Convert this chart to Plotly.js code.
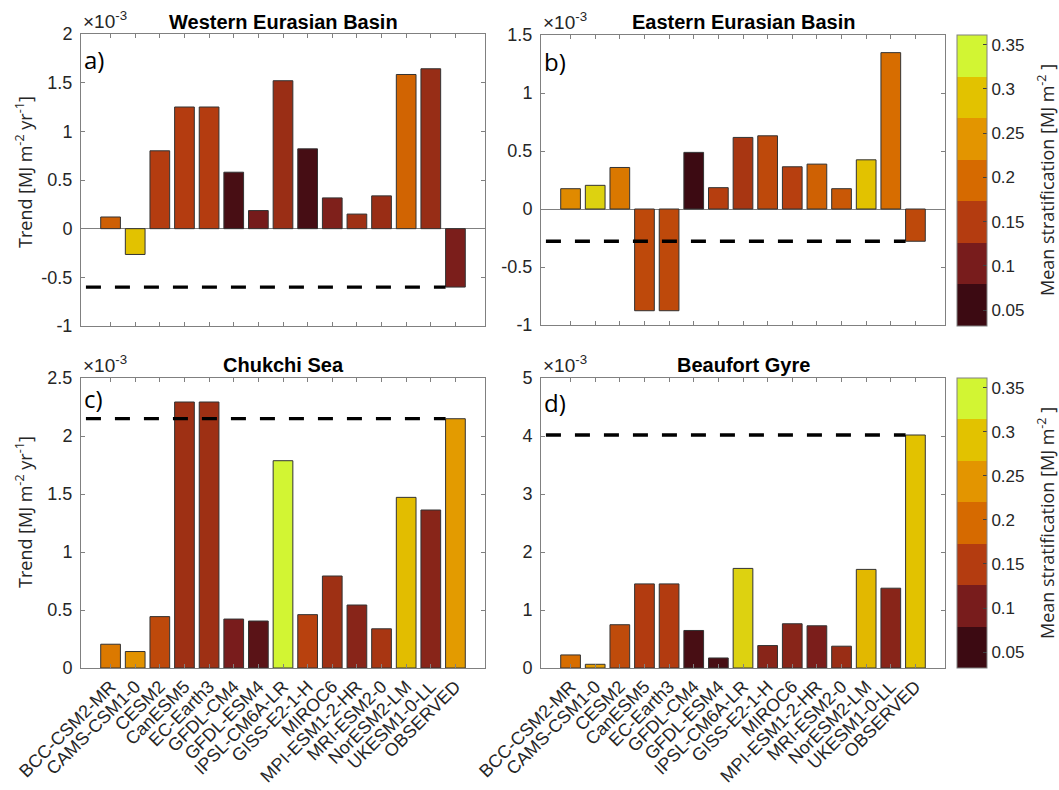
<!DOCTYPE html>
<html><head><meta charset="utf-8">
<script src="https://cdn.plot.ly/plotly-3.0.1.min.js"></script>
<style>html,body{margin:0;padding:0;background:#fff}#chart{width:1059px;height:790px}</style>
</head><body><div id="chart"></div>
<script>
// ---------------- DATA ----------------
const models = ["BCC-CSM2-MR","CAMS-CSM1-0","CESM2","CanESM5","EC-Earth3","GFDL-CM4","GFDL-ESM4","IPSL-CM6A-LR","GISS-E2-1-H","MIROC6","MPI-ESM1-2-HR","MRI-ESM2-0","NorESM2-LM","UKESM1-0-LL","OBSERVED"];
// Trend, in units of 1e-3 MJ m-2 yr-1
const trendWEB = [0.12,-0.265,0.80,1.25,1.25,0.58,0.186,1.52,0.82,0.316,0.15,0.337,1.584,1.643,-0.60];
const trendEEB = [0.175,0.204,0.358,-0.877,-0.877,0.488,0.184,0.617,0.631,0.364,0.387,0.175,0.424,1.348,-0.278];
const trendCS  = [0.205,0.142,0.443,2.293,2.293,0.422,0.405,1.787,0.46,0.793,0.543,0.338,1.471,1.362,2.149];
const trendBG  = [0.225,0.064,0.746,1.45,1.45,0.647,0.173,1.717,0.387,0.763,0.728,0.376,1.70,1.376,4.017];
// Mean stratification, MJ m-2 (bar colour)
const stratWEB = [0.185,0.29,0.15,0.15,0.15,0.065,0.10,0.129,0.063,0.108,0.132,0.128,0.19,0.127,0.105];
const stratEEB = [0.231,0.305,0.212,0.163,0.163,0.05,0.152,0.14,0.163,0.153,0.187,0.178,0.29,0.2,0.163];
const stratCS  = [0.213,0.24,0.163,0.132,0.132,0.103,0.079,0.34,0.155,0.132,0.115,0.14,0.285,0.115,0.25];
const stratBG  = [0.2,0.25,0.165,0.148,0.148,0.065,0.065,0.305,0.115,0.115,0.105,0.128,0.28,0.115,0.29];
const panelTitles = ["Western Eurasian Basin","Eastern Eurasian Basin","Chukchi Sea","Beaufort Gyre"];
const panelLetters = ["a)","b)","c)","d)"];
const yTicksA = [-1,-0.5,0,0.5,1,1.5,2];
const yTicksB = [-1,-0.5,0,0.5,1,1.5];
const yTicksC = [0,0.5,1,1.5,2,2.5];
const yTicksD = [0,1,2,3,4,5];
const cbTicks = [0.05,0.1,0.15,0.2,0.25,0.3,0.35];
const cbRange = [0.032,0.361];

// ---------------- STYLE ----------------
const W=1059,H=790;
const fx=p=>p/W, fy=p=>1-p/H;
const bandColors = ["#3c0a12","#781c1c","#b43c10","#d66a00","#e39500","#e2c200","#d2f533"]; // bottom -> top
const nb = bandColors.length;
const discScale = [];
bandColors.forEach((c,i)=>{discScale.push([i/nb,c]);discScale.push([(i+1)/nb,c]);});
const contScale = [[0,bandColors[0]]];
bandColors.forEach((c,i)=>contScale.push([(i+0.5)/nb,c]));
contScale.push([1,bandColors[nb-1]]);

const tickFont = {family:"Liberation Sans, Arial, sans-serif", size:18, color:"#262626"};
const lab = v => String(v);
const xpos = models.map((m,i)=>i+1);

function xax(dom, anchor, showLabels){
  return {domain:dom, anchor:anchor, range:[-0.2,16.2], showline:true, linecolor:"#808080", linewidth:1,
    mirror:"ticks", ticks:"inside", ticklen:4, tickcolor:"#808080", showgrid:false, zeroline:false,
    tickvals:xpos, ticktext:models, showticklabels:showLabels, tickangle:-45,
    tickfont:{family:"Liberation Sans, Arial, sans-serif", size:18, color:"#262626"}, fixedrange:true};
}
function yax(dom, anchor, rng, tv, zl){
  return {domain:dom, anchor:anchor, range:rng, showline:true, linecolor:"#808080", linewidth:1,
    mirror:"ticks", ticks:"inside", ticklen:4, tickcolor:"#808080", showgrid:false,
    zeroline:zl, zerolinecolor:"#808080", zerolinewidth:1,
    tickvals:tv, ticktext:tv.map(lab), tickfont:tickFont, ticklabelstandoff:4, fixedrange:true};
}

const trends=[trendWEB,trendEEB,trendCS,trendBG];
const strats=[stratWEB,stratEEB,stratCS,stratBG];
const axn=["","2","3","4"];
const traces=[];
trends.forEach((t,k)=>{
  traces.push({type:"bar", x:xpos, y:t, width:0.8, xaxis:"x"+axn[k], yaxis:"y"+axn[k],
    marker:{color:strats[k], colorscale:contScale, cmin:cbRange[0], cmax:cbRange[1], showscale:false,
      line:{color:"#333333", width:1}}, hoverinfo:"x+y", showlegend:false});
});
// colourbars (discrete), attached to hidden markers
[["2",35,291],["4",378,290]].forEach(([a,top,len])=>{
  traces.push({type:"scatter", mode:"markers", x:cbTicks.map(()=>1), y:cbTicks.map(()=>-100),
    xaxis:"x"+a, yaxis:"y"+a, hoverinfo:"skip", showlegend:false,
    marker:{size:1, color:cbTicks, colorscale:discScale, cmin:cbRange[0], cmax:cbRange[1], showscale:true,
      colorbar:{x:fx(957), xanchor:"left", xpad:0, ypad:0, thickness:30, thicknessmode:"pixels",
        len:len, lenmode:"pixels", y:fy(top), yanchor:"top", outlinecolor:"#808080", outlinewidth:1,
        tickvals:cbTicks, ticktext:cbTicks.map(lab), ticks:"inside", ticklen:4, tickcolor:"#404040",
        tickfont:{family:"Liberation Sans, Arial, sans-serif", size:17, color:"#262626"}}}});
});

const dom = {
  xa:[fx(81),fx(485)], xb:[fx(541),fx(945)],
  ya:[fy(326),fy(34)], yb:[fy(325),fy(35)], yc:[fy(668),fy(378)], yd:[fy(668),fy(378)]
};
const shapes = trends.map((t,k)=>({type:"line", xref:"x"+axn[k], yref:"y"+axn[k], x0:0, x1:14.6,
  y0:t[t.length-1], y1:t[t.length-1], line:{color:"#000", width:3.3, dash:"15px,14px"}, layer:"above"}));

const ann=[];
const titleX=[283,743,283,743], titleY=[22,22,365,365];
const topY=[34,35,378,378], leftX=[81,541,81,541];
const letterY=[60,62,398,402];
for(let k=0;k<4;k++){
  ann.push({text:"<b>"+panelTitles[k]+"</b>", x:fx(titleX[k]), y:fy(titleY[k]), xref:"paper", yref:"paper",
    xanchor:"center", yanchor:"middle", showarrow:false, font:{family:"Liberation Sans, Arial, sans-serif", size:20, color:"#000"}});
  ann.push({text:"×10<sup>-3</sup>", x:fx(leftX[k]), y:fy(topY[k]), xref:"paper", yref:"paper",
    xanchor:"left", yanchor:"bottom", showarrow:false, font:{family:"Liberation Sans, Arial, sans-serif", size:19, color:"#262626"}});
  ann.push({text:panelLetters[k], x:fx(leftX[k]+1), y:fy(letterY[k]), xref:"paper", yref:"paper",
    xanchor:"left", yanchor:"middle", showarrow:false, font:{family:"Open Sans, sans-serif", size:24, color:"#000"}});
}
[172,512].forEach(yc=>ann.push({text:"Trend [MJ m<sup>-2</sup> yr<sup>-1</sup>]", textangle:-90, x:fx(24), y:fy(yc),
  xref:"paper", yref:"paper", xanchor:"center", yanchor:"middle", showarrow:false,
  font:{family:"Open Sans, sans-serif", size:18, color:"#262626"}}));
[180,523].forEach(yc=>ann.push({text:"Mean stratification [MJ m<sup>-2</sup> ]", textangle:-90, x:fx(1046), y:fy(yc),
  xref:"paper", yref:"paper", xanchor:"center", yanchor:"middle", showarrow:false,
  font:{family:"Open Sans, sans-serif", size:18, color:"#262626"}}));

const layout = {
  width:W, height:H, margin:{l:0,r:0,t:0,b:0}, paper_bgcolor:"#fff", plot_bgcolor:"#fff",
  showlegend:false, bargap:0,
  xaxis:xax(dom.xa,"y",false), yaxis:yax(dom.ya,"x",[-1,2],yTicksA,true),
  xaxis2:xax(dom.xb,"y2",false), yaxis2:yax(dom.yb,"x2",[-1,1.5],yTicksB,true),
  xaxis3:xax(dom.xa,"y3",true), yaxis3:yax(dom.yc,"x3",[0,2.5],yTicksC,false),
  xaxis4:xax(dom.xb,"y4",true), yaxis4:yax(dom.yd,"x4",[0,5],yTicksD,false),
  shapes:shapes, annotations:ann
};
Plotly.newPlot("chart", traces, layout, {displayModeBar:false, staticPlot:true});
</script></body></html>
